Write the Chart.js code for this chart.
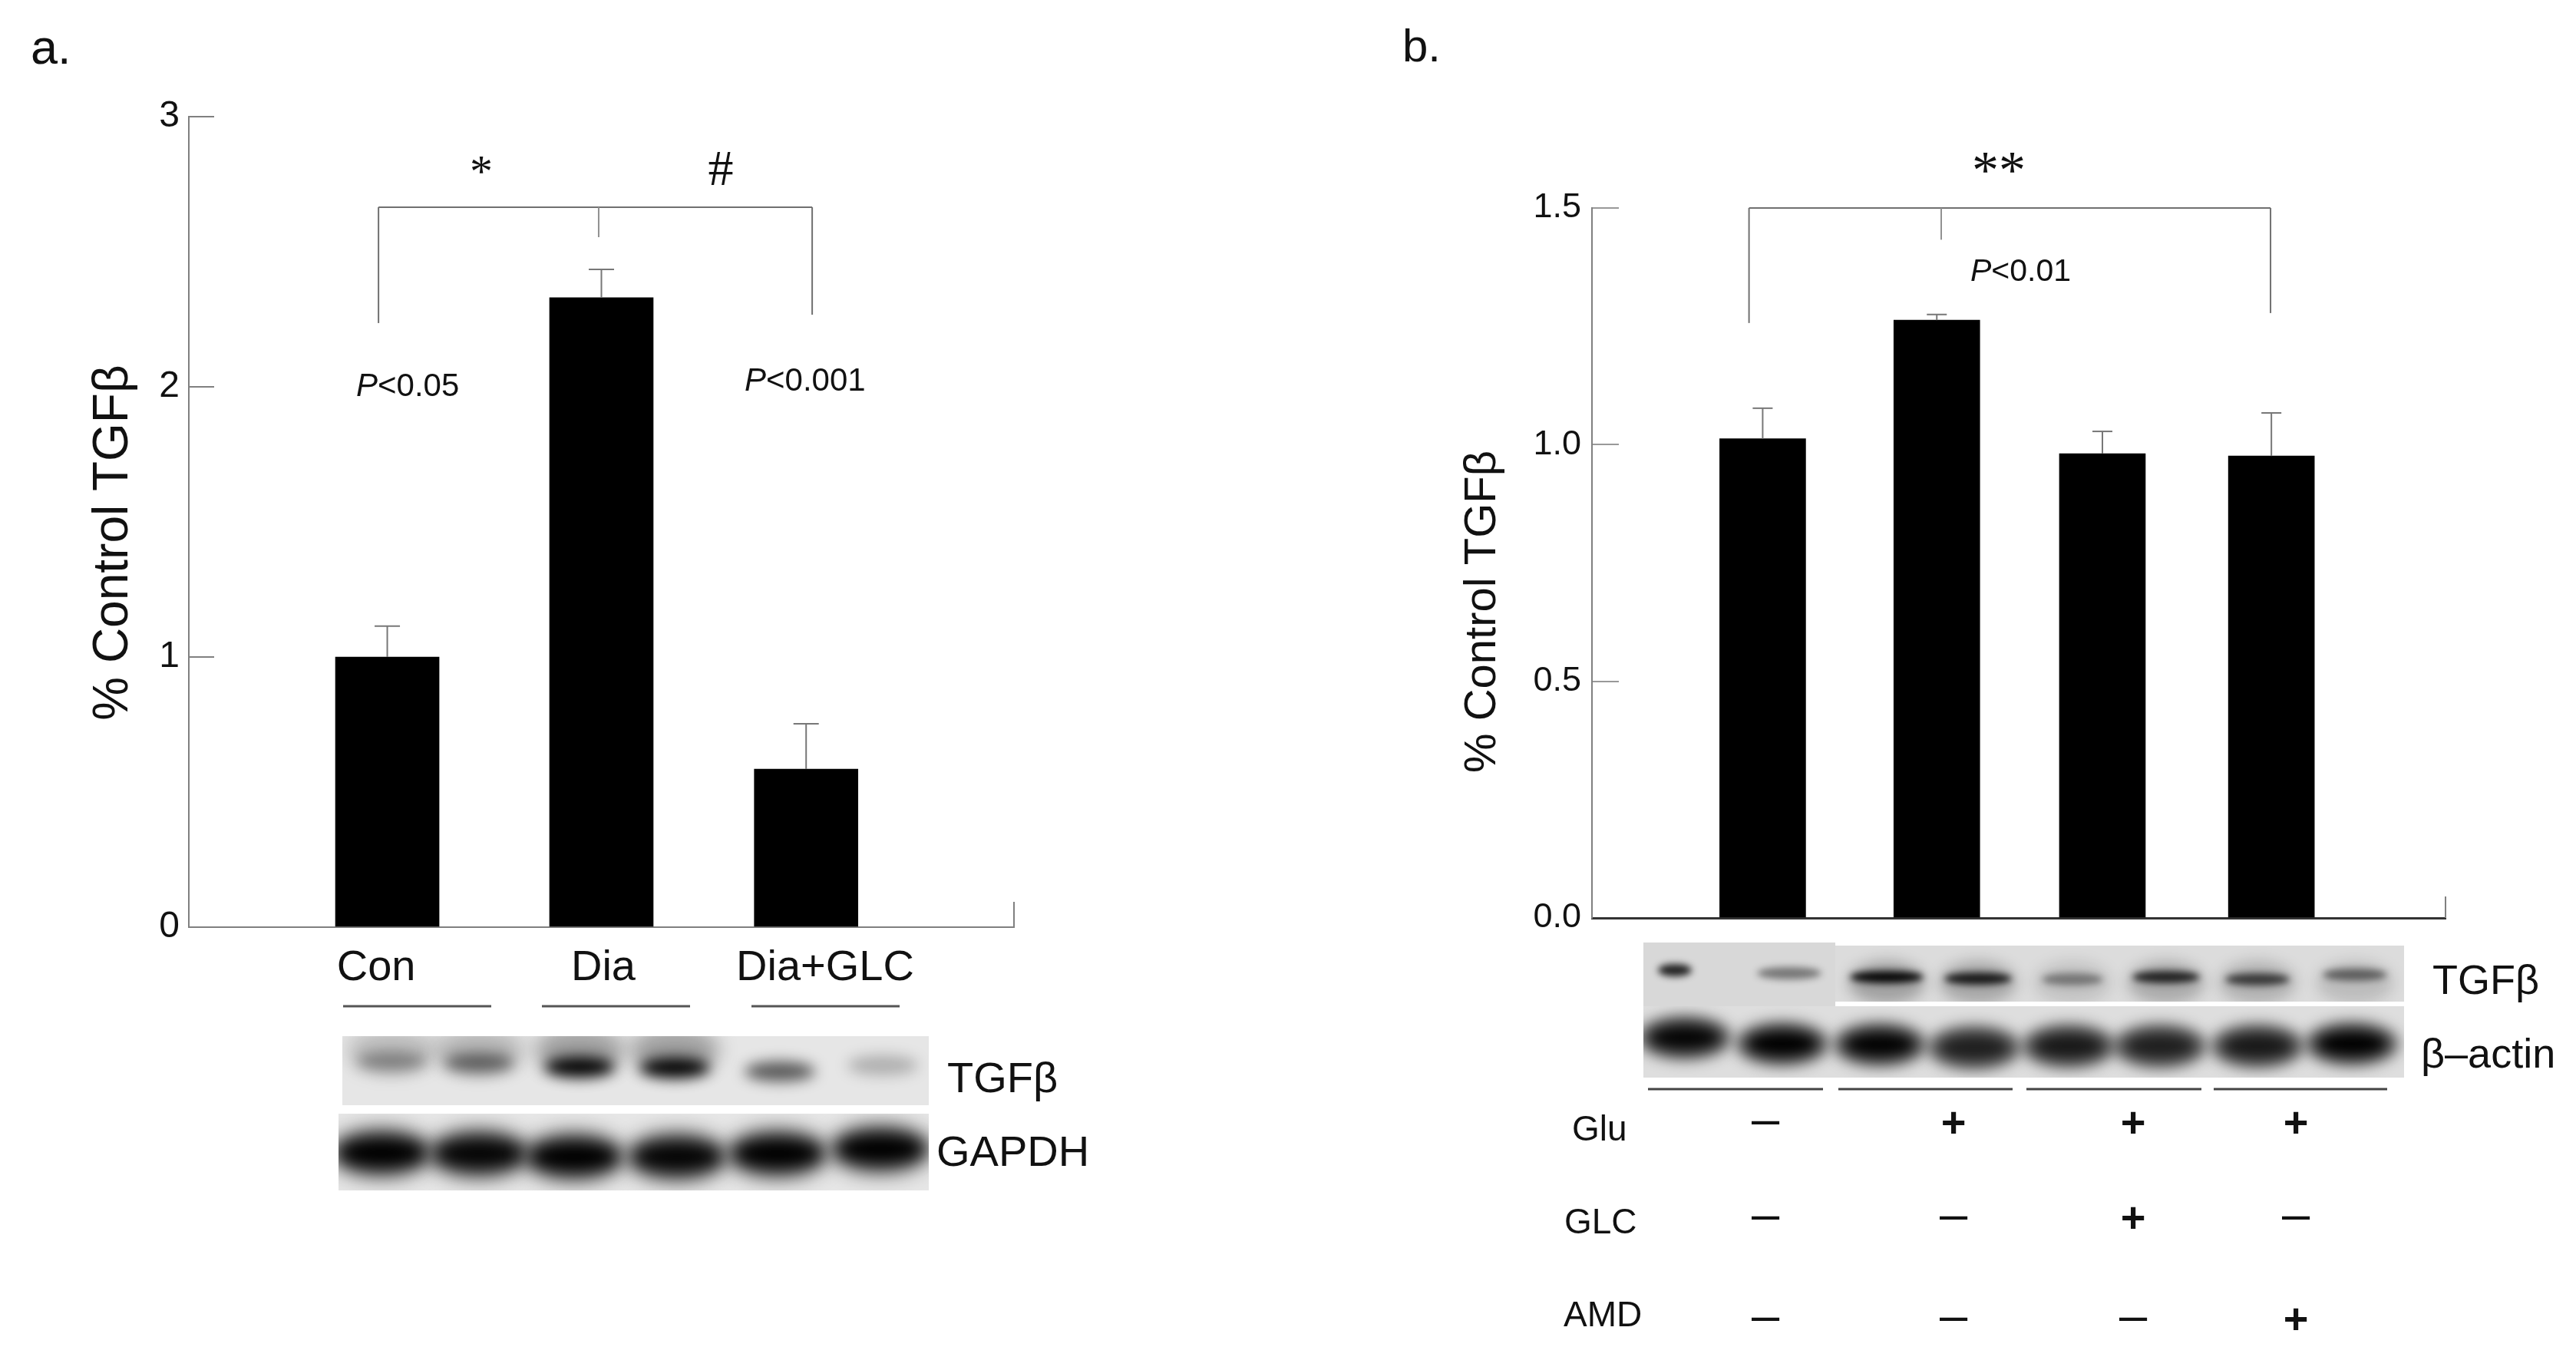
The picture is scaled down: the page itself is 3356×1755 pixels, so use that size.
<!DOCTYPE html>
<html>
<head>
<meta charset="utf-8">
<title>TGF-beta panels</title>
<script src="https://cdn.jsdelivr.net/npm/chart.js@4"></script>
<style>
  html, body { margin: 0; padding: 0; background: #fff; }
  canvas { position: absolute; top: 0; }
  #chartA { left: 0; }
  #chartB { left: 1678px; }
</style>
</head>
<body>
<canvas id="chartA" width="1678" height="1755"></canvas>
<canvas id="chartB" width="1678" height="1755"></canvas>
<script>
// =========================
// Data, panel a
// =========================
const catsA = ['Con', 'Dia', 'Dia+GLC'];
const posA = [1, 2.025, 3.005];
const labelPosA = [0.947, 2.034, 3.096];
const valuesA = [1.0, 2.33, 0.585];
const errTopA = [1.114, 2.435, 0.753];
const yTicksA = [0, 1, 2, 3];
const bandIntA = [0.34, 0.5, 1, 1, 0.62, 0.24];
const loadIntA = [1, 0.95, 1, 0.95, 1, 1];

// =========================
// Data, panel b
// =========================
const posB = [1, 2.02, 2.99, 3.98];
const valuesB = [1.0125, 1.263, 0.981, 0.976];
const errTopB = [1.077, 1.275, 1.028, 1.067];
const yTicksB = [0, 0.5, 1.0, 1.5];
const rowNames = ['Glu', 'GLC', 'AMD'];
const gluSigns = ['-', '+', '+', '+'];
const glcSigns = ['-', '-', '+', '-'];
const amdSigns = ['-', '-', '-', '+'];
const bandIntB = [0.85, 0.45, 0.95, 0.85, 0.4, 0.8, 0.68, 0.5];
const loadIntB = [0.95, 1, 0.98, 0.72, 0.78, 0.72, 0.78, 1];

const FONT = '"Liberation Sans", Arial, sans-serif';
const SERIF = '"Liberation Serif", serif';
const AXIS = '#808080';

// =========================
// Small drawing helpers
// =========================
function text(ctx, str, x, y, size, opts = {}) {
    ctx.font = `${opts.style || ''} ${size}px ${opts.family || FONT}`;
    ctx.fillStyle = '#111';
    ctx.textAlign = opts.align || 'left';
    ctx.textBaseline = 'alphabetic';
    ctx.fillText(str, x, y);
}

function pValue(ctx, rest, x, y, size) {
    text(ctx, 'P', x, y, size, { style: 'italic' });
    const w = ctx.measureText('P').width;
    text(ctx, rest, x + w, y, size);
}

function vTitle(ctx, str, cx, cy, size) {
    ctx.save();
    ctx.translate(cx, cy);
    ctx.rotate(-Math.PI / 2);
    ctx.font = `${size}px ${FONT}`;
    ctx.fillStyle = '#111';
    ctx.textAlign = 'center';
    ctx.textBaseline = 'middle';
    ctx.fillText(str, 0, 0);
    ctx.restore();
}

function line(ctx, x1, y1, x2, y2, color, width) {
    ctx.strokeStyle = color;
    ctx.lineWidth = width;
    ctx.beginPath();
    ctx.moveTo(x1, y1);
    ctx.lineTo(x2, y2);
    ctx.stroke();
}

function blob(ctx, x, y, rx, ry, alpha, blur) {
    ctx.filter = `blur(${blur}px)`;
    ctx.fillStyle = `rgba(0,0,0,${alpha})`;
    ctx.beginPath();
    ctx.ellipse(x, y, rx, ry, 0, 0, Math.PI * 2);
    ctx.fill();
    ctx.filter = 'none';
}

function blotBox(ctx, x, y, w, h, bg, draw) {
    ctx.save();
    ctx.beginPath();
    ctx.rect(x, y, w, h);
    ctx.clip();
    ctx.fillStyle = bg;
    ctx.fillRect(x, y, w, h);
    draw();
    ctx.restore();
}

function errorBars(ctx, chart, pos, vals, tops, capW) {
    const sx = chart.scales.x, sy = chart.scales.y;
    pos.forEach((p, i) => {
        const x = sx.getPixelForValue(p);
        const y0 = sy.getPixelForValue(vals[i]);
        const y1 = sy.getPixelForValue(tops[i]);
        line(ctx, x, y0, x, y1, '#777', 2);
        line(ctx, x - capW / 2, y1, x + capW / 2, y1, '#777', 2);
    });
}

function bracket(ctx, chart, left, mid, right, top, legL, legM, legR) {
    const sx = chart.scales.x, sy = chart.scales.y;
    const X = v => sx.getPixelForValue(v), Y = v => sy.getPixelForValue(v);
    line(ctx, X(left), Y(top), X(right), Y(top), '#707070', 2);
    line(ctx, X(left), Y(top), X(left), Y(legL), '#707070', 2);
    line(ctx, X(mid), Y(top), X(mid), Y(legM), '#909090', 2);
    line(ctx, X(right), Y(top), X(right), Y(legR), '#707070', 2);
}

// =========================
// Overlays for each panel
// =========================
const overlayA = {
    id: 'overlayA',
    afterDatasetsDraw(chart) {
        const ctx = chart.ctx;
        const area = chart.chartArea;
        ctx.save();
        errorBars(ctx, chart, posA, valuesA, errTopA, 33);
        line(ctx, area.right, 1175, area.right, area.bottom, AXIS, 2);
        bracket(ctx, chart, 0.958, 2.012, 3.034, 2.665, 2.236, 2.554, 2.267);

        text(ctx, 'a.', 40, 83, 63);
        text(ctx, '*', 627, 243, 60, { family: SERIF, align: 'center' });
        text(ctx, '#', 939, 241, 66, { family: SERIF, align: 'center' });
        pValue(ctx, '<0.05', 464, 516, 42);
        pValue(ctx, '<0.001', 970, 509, 42);
        vTitle(ctx, '% Control TGFβ', 148, 707, 64);

        [[447, 640], [706, 899], [979, 1172]].forEach(s => line(ctx, s[0], 1311, s[1], 1311, '#555', 3));

        // blots
        const lanes1 = [510, 624, 755, 879, 1016, 1150];
        const bandY = [1383, 1385, 1390, 1391, 1396, 1388];
        blotBox(ctx, 446, 1350, 764, 90, '#e6e6e6', () => {
            lanes1.forEach((x, i) => {
                if (i < 4) blob(ctx, x, 1368, 58, 30, 0.1 + bandIntA[i] * 0.2, 12);
                blob(ctx, x, bandY[i], 46, 13, bandIntA[i], 9);
            });
        });
        const lanes2 = [497, 624, 748, 882, 1013, 1147];
        const loadY = [1502, 1503, 1507, 1507, 1503, 1497];
        blotBox(ctx, 441, 1451, 769, 100, '#e6e6e6', () => {
            lanes2.forEach((x, i) => {
                blob(ctx, x, loadY[i], 68, 34, 0.55, 12);
                blob(ctx, x, loadY[i], 56, 20, loadIntA[i], 10);
            });
        });
        text(ctx, 'TGFβ', 1234, 1423, 56);
        text(ctx, 'GAPDH', 1220, 1519, 56);
        ctx.restore();
    }
};

const overlayB = {
    id: 'overlayB',
    afterDatasetsDraw(chart) {
        const ctx = chart.ctx;
        const area = chart.chartArea;
        ctx.save();
        errorBars(ctx, chart, posB, valuesB, errTopB, 26);
        line(ctx, area.right, 1168, area.right, area.bottom, AXIS, 2);
        bracket(ctx, chart, 0.92, 2.046, 3.975, 1.5, 1.257, 1.433, 1.278);
        ctx.translate(-1678, 0);

        text(ctx, 'b.', 1827, 80, 60);
        text(ctx, '**', 2604, 245, 70, { family: SERIF, align: 'center' });
        pValue(ctx, '<0.01', 2567, 366, 41);
        vTitle(ctx, '% Control TGFβ', 1932, 797, 58);

        // blots
        const lanes1 = [2182, 2331, 2458, 2577, 2700, 2822, 2941, 3068];
        const bandY = [1264, 1268, 1273, 1275, 1276, 1273, 1276, 1270];
        const bandW = [22, 42, 48, 44, 40, 44, 42, 42];
        blotBox(ctx, 2141, 1228, 250, 83, '#d8d8d8', () => {
            lanes1.slice(0, 2).forEach((x, i) => blob(ctx, x, bandY[i], bandW[i], 8, bandIntB[i], 5));
        });
        blotBox(ctx, 2391, 1232, 741, 73, '#dcdcdc', () => {
            lanes1.slice(2).forEach((x, i) => {
                blob(ctx, x, 1280, 50, 28, bandIntB[i + 2] * 0.28, 9);
                blob(ctx, x, bandY[i + 2], bandW[i + 2], 8, bandIntB[i + 2], 5);
            });
        });
        const lanes2 = [2195, 2322, 2449, 2572, 2695, 2814, 2941, 3064];
        const loadY = [1352, 1360, 1361, 1365, 1363, 1363, 1363, 1360];
        blotBox(ctx, 2141, 1311, 991, 93, '#dedede', () => {
            lanes2.forEach((x, i) => {
                blob(ctx, x, loadY[i], 62, 30, 0.5, 9);
                blob(ctx, x, loadY[i], 48, 18, loadIntB[i], 9);
            });
        });
        text(ctx, 'TGFβ', 3169, 1295, 54);
        text(ctx, 'β–actin', 3154, 1391, 54);

        [[2147, 2375], [2395, 2622], [2640, 2868], [2884, 3110]].forEach(s => line(ctx, s[0], 1419, s[1], 1419, '#444', 3));

        // treatment table
        const rowY = [1486, 1607, 1728];
        const rowX = [2048, 2038, 2037];
        rowNames.forEach((name, i) => text(ctx, name, rowX[i], rowY[i], 46));
        const signX = [2300, 2545, 2779, 2991];
        const signRows = [[gluSigns, 1462], [glcSigns, 1586], [amdSigns, 1718]];
        signRows.forEach(row => {
            row[0].forEach((s, i) => {
                if (s === '+') text(ctx, '+', signX[i], row[1] + 19, 56, { style: 'bold', align: 'center' });
                else text(ctx, '–', signX[i], row[1] + 17, 65, { align: 'center' });
            });
        });
        ctx.restore();
    }
};

// =========================
// Chart setup
// =========================
function yScale(ticks, fmt, step, tickLen, gap, color, size) {
    return {
        min: ticks[0],
        max: ticks[ticks.length - 1],
        afterFit: s => { s.width = 100; },
        border: { color: AXIS, width: 2 },
        grid: { drawOnChartArea: false, color: color, lineWidth: 2, tickLength: -tickLen },
        ticks: {
            stepSize: step,
            padding: tickLen + gap,
            color: '#111',
            font: { family: FONT, size: size },
            callback: v => fmt(v)
        }
    };
}

new Chart(document.getElementById('chartA'), {
    type: 'bar',
    data: {
        datasets: [{
            data: posA.map((x, i) => ({ x: x, y: valuesA[i] })),
            backgroundColor: '#000',
            barThickness: 135
        }]
    },
    options: {
        responsive: false,
        animation: false,
        layout: { autoPadding: false, padding: { left: 146, top: 152, right: 357, bottom: 467 } },
        plugins: { legend: { display: false }, tooltip: { enabled: false } },
        scales: {
            x: {
                type: 'linear',
                offset: false,
                min: 0.05,
                max: 4,
                afterFit: s => { s.height = 80; },
                afterBuildTicks: s => { s.ticks = labelPosA.map(v => ({ value: v })); },
                border: { color: AXIS, width: 2 },
                grid: { display: false, drawTicks: false },
                ticks: {
                    autoSkip: false,
                    maxRotation: 0,
                    padding: 20,
                    color: '#111',
                    font: { family: FONT, size: 56 },
                    callback: (v, i) => catsA[i]
                }
            },
            y: yScale(yTicksA, v => String(v), 1, 33, 12, AXIS, 48)
        }
    },
    plugins: [overlayA]
});

new Chart(document.getElementById('chartB'), {
    type: 'bar',
    data: {
        datasets: [{
            data: posB.map((x, i) => ({ x: x, y: valuesB[i] })),
            backgroundColor: '#000',
            barThickness: 112
        }]
    },
    options: {
        responsive: false,
        animation: false,
        layout: { autoPadding: false, padding: { left: 296, top: 271, right: 170, bottom: 559 } },
        plugins: { legend: { display: false }, tooltip: { enabled: false } },
        scales: {
            x: {
                type: 'linear',
                offset: false,
                min: 0,
                max: 5,
                afterFit: s => { s.height = 0; },
                border: { color: '#333', width: 3 },
                grid: { display: false, drawTicks: false },
                ticks: { display: false }
            },
            y: yScale(yTicksB, v => v.toFixed(1), 0.5, 35, 14, '#999', 45)
        }
    },
    plugins: [overlayB]
});
</script>
</body>
</html>
